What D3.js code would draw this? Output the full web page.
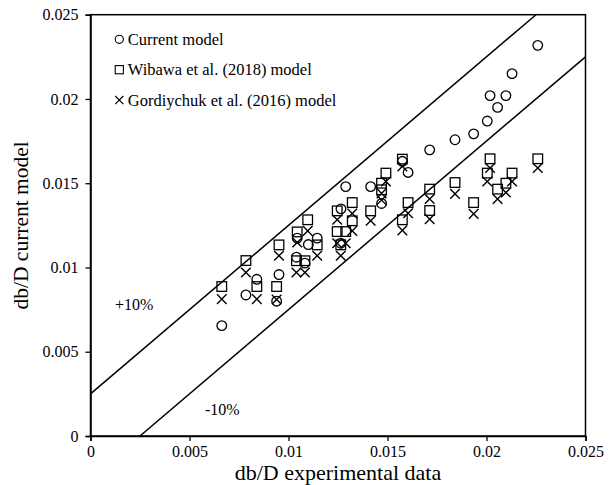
<!DOCTYPE html>
<html>
<head>
<meta charset="utf-8">
<script src="https://cdn.jsdelivr.net/npm/d3@7"></script>
<style>
  body { margin: 0; background: #fff; }
  text { font-family: "Liberation Serif", "Times New Roman", serif; fill: #000; }
</style>
</head>
<body>
<svg id="chart" width="612" height="485"></svg>
<script>
// values
var xTicks = [0, 0.005, 0.01, 0.015, 0.02, 0.025];
var yTicks = [0, 0.005, 0.01, 0.015, 0.02, 0.025];
var bandOffset = 0.0025; // +/-10% of full scale

var currentX = [0.00663, 0.00785, 0.0084, 0.0094, 0.00952, 0.0104, 0.01083, 0.01044, 0.0110, 0.01145,
  0.01265, 0.01264, 0.01289, 0.01415, 0.0147, 0.01575, 0.01604, 0.01713, 0.01841, 0.01935,
  0.02004, 0.02018, 0.02056, 0.02098, 0.02129, 0.02259];
var currentY = [0.00655, 0.00837, 0.0093, 0.0080, 0.00958, 0.01061, 0.01026, 0.01174, 0.01136, 0.01174,
  0.01348, 0.01144, 0.0148, 0.0148, 0.0138, 0.0163, 0.01564, 0.01698, 0.01758, 0.01793,
  0.01869, 0.0202, 0.0195, 0.0202, 0.0215, 0.02318];

var wibawaX = [0.00663, 0.00785, 0.0084, 0.0094, 0.00952, 0.0104, 0.01083, 0.01044, 0.01097, 0.01145,
  0.01264, 0.01246, 0.01246, 0.01289, 0.01322, 0.01322, 0.01415, 0.0147, 0.0147, 0.01492,
  0.01575, 0.01575, 0.01604, 0.01713, 0.01713, 0.01841, 0.01935, 0.02004, 0.02018, 0.02056,
  0.02098, 0.02129, 0.02259];
var wibawaY = [0.00887, 0.01041, 0.00887, 0.00887, 0.01134, 0.0104, 0.0104, 0.01211, 0.01283, 0.01134,
  0.01134, 0.01336, 0.01213, 0.01213, 0.01385, 0.01277, 0.01336, 0.0150, 0.01461, 0.0156,
  0.01643, 0.01283, 0.01385, 0.01465, 0.01338, 0.01504, 0.01385, 0.0156, 0.01645, 0.01465,
  0.0150, 0.0156, 0.01645];

var gordX = wibawaX;
var gordY = [0.00812, 0.0097, 0.00812, 0.0081, 0.0107, 0.0097, 0.0097, 0.01148, 0.01217, 0.0107,
  0.0107, 0.01283, 0.01144, 0.01144, 0.0132, 0.01217, 0.01277, 0.0144, 0.0140, 0.0151,
  0.0160, 0.0122, 0.01322, 0.01406, 0.01287, 0.01437, 0.01318, 0.0151, 0.0159, 0.01406,
  0.01445, 0.0151, 0.0159];

var seriesNames = ["Current model", "Wibawa et al. (2018) model", "Gordiychuk et al. (2016) model"];

var svg = d3.select("#chart");
var margin = {left: 90.5, top: 14.7, right: 26.5, bottom: 49};
var w = 612 - margin.left - margin.right;
var h = 485 - margin.top - margin.bottom;

var x = d3.scaleLinear().domain([0, 0.025]).range([0, w]);
var y = d3.scaleLinear().domain([0, 0.025]).range([h, 0]);

var g = svg.append("g").attr("transform", "translate(" + margin.left + "," + margin.top + ")");

// frame
g.append("rect").attr("width", w).attr("height", h)
  .style("fill", "none").style("stroke", "#000").style("stroke-width", 1.5);

var fmt = function(d) { return d === 0 ? "0" : String(+d.toFixed(3)); };

var xAxis = g.append("g").attr("transform", "translate(0," + h + ")")
  .call(d3.axisBottom(x).tickValues(xTicks).tickFormat(fmt).tickSizeOuter(0).tickSize(5).tickPadding(5));
var yAxis = g.append("g")
  .call(d3.axisLeft(y).tickValues(yTicks).tickFormat(fmt).tickSizeOuter(0).tickSize(5).tickPadding(7));
[xAxis, yAxis].forEach(function(a) {
  a.select(".domain").style("stroke", "#000").style("stroke-width", 1.5);
  a.selectAll(".tick line").style("stroke", "#000").style("stroke-width", 1.3);
  a.selectAll("text").style("font-family", "Liberation Serif").style("font-size", "16px").style("fill", "#000");
});

// +/-10% lines
var upper = [[0, bandOffset], [0.025 - bandOffset, 0.025]];
var lower = [[bandOffset, 0], [0.025, 0.025 - bandOffset]];
var line = d3.line().x(function(d) { return x(d[0]); }).y(function(d) { return y(d[1]); });
[upper, lower].forEach(function(l) {
  g.append("path").attr("d", line(l))
    .style("fill", "none").style("stroke", "#000").style("stroke-width", 1.5);
});

g.append("text").attr("x", 24.5).attr("y", 295).style("font-size", "16px").text("+10%");
g.append("text").attr("x", 114.5).attr("y", 400).style("font-size", "16px").text("-10%");

// markers
function pts(xs, ys) { return xs.map(function(v, i) { return [v, ys[i]]; }); }
var ms = 4.8;
function drawMarker(sel, kind) {
  if (kind === 0) {
    sel.append("circle").attr("r", ms).style("fill", "none").style("stroke", "#000").style("stroke-width", 1.3);
  } else if (kind === 1) {
    sel.append("rect").attr("x", -ms).attr("y", -ms).attr("width", 2 * ms).attr("height", 2 * ms)
      .style("fill", "none").style("stroke", "#000").style("stroke-width", 1.3);
  } else {
    sel.append("path").attr("d", "M" + -ms + "," + -ms + "L" + ms + "," + ms + "M" + ms + "," + -ms + "L" + -ms + "," + ms)
      .style("fill", "none").style("stroke", "#000").style("stroke-width", 1.4);
  }
}

var seriesData = [pts(currentX, currentY), pts(wibawaX, wibawaY), pts(gordX, gordY)];
seriesData.forEach(function(data, k) {
  g.append("g").selectAll("g").data(data).enter().append("g")
    .attr("transform", function(d) { return "translate(" + x(d[0]) + "," + y(d[1]) + ")"; })
    .each(function() { drawMarker(d3.select(this), k); });
});

// legend
var leg = g.append("g").attr("transform", "translate(28.8,24.6)");
seriesNames.forEach(function(name, k) {
  var row = leg.append("g").attr("transform", "translate(0," + k * 30.4 + ")");
  var m = row.append("g").attr("transform", "scale(0.85)");
  drawMarker(m, k);
  row.append("text").attr("x", 8.5).attr("y", 5.6).style("font-size", "16.5px").text(name);
});

// axis titles
svg.append("text").attr("x", margin.left + w / 2).attr("y", 480)
  .attr("text-anchor", "middle").style("font-size", "22px").text("db/D experimental data");
svg.append("text").attr("transform", "translate(28," + (margin.top + h / 2) + ") rotate(-90)")
  .attr("text-anchor", "middle").style("font-size", "21.5px").text("db/D current model");
</script>
</body>
</html>
